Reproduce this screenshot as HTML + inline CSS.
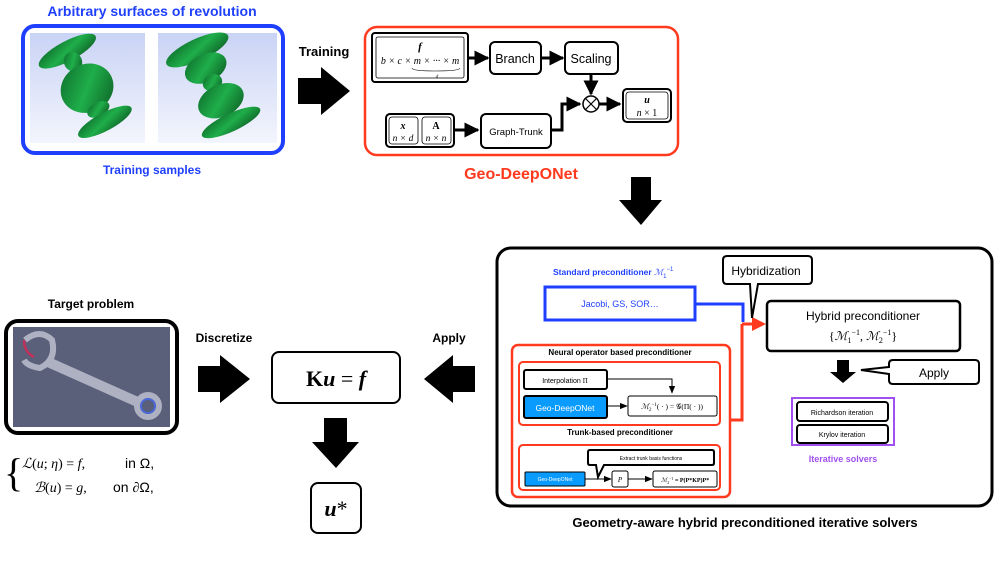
<!DOCTYPE html>
<html><head><meta charset="utf-8"><style>
html,body{margin:0;padding:0;background:#fff;}
svg{display:block;font-family:"Liberation Sans",sans-serif;}
.s{font-family:"Liberation Serif",serif;}
</style></head><body>
<svg width="997" height="561" viewBox="0 0 997 561" xmlns="http://www.w3.org/2000/svg">
<defs>
<linearGradient id="bg" x1="0" y1="0" x2="0" y2="1"><stop offset="0" stop-color="#c9d3f5"/><stop offset="1" stop-color="#f3f5fd"/></linearGradient>
<linearGradient id="gr" x1="0" y1="0" x2="1" y2="1"><stop offset="0" stop-color="#0d6a2a"/><stop offset="0.5" stop-color="#1fae4a"/><stop offset="1" stop-color="#0c5a22"/></linearGradient>
<marker id="ah" viewBox="0 0 10 10" refX="9" refY="5" markerWidth="5" markerHeight="5" orient="auto"><path d="M0,0 L10,5 L0,10z" fill="#000"/></marker>
<marker id="as" viewBox="0 0 10 10" refX="9" refY="5" markerWidth="8" markerHeight="8" orient="auto"><path d="M0,1 L10,5 L0,9z" fill="#000"/></marker>
</defs>

<!-- Top-left -->
<text x="152" y="16" text-anchor="middle" font-size="14" font-weight="bold" fill="#1f3fff">Arbitrary surfaces of revolution</text>
<rect x="23" y="26" width="260" height="127" rx="12" fill="#fff" stroke="#1f3fff" stroke-width="4"/>
<rect x="30" y="33" width="115" height="110" fill="url(#bg)"/>
<rect x="158" y="33" width="119" height="110" fill="url(#bg)"/>
<g fill="url(#gr)" transform="translate(88,90) rotate(-28)">
<ellipse cx="0" cy="-44" rx="32" ry="10"/>
<ellipse cx="0" cy="-32" rx="9" ry="10"/>
<ellipse cx="0" cy="-2" rx="27" ry="24"/>
<ellipse cx="0" cy="22" rx="12" ry="7"/>
<ellipse cx="0" cy="36" rx="30" ry="9"/>
</g>
<g fill="url(#gr)" transform="translate(215,88) rotate(-25)">
<ellipse cx="0" cy="-42" rx="34" ry="11"/>
<ellipse cx="0" cy="-22" rx="22" ry="14"/>
<ellipse cx="0" cy="-6" rx="10" ry="8"/>
<ellipse cx="0" cy="14" rx="24" ry="16"/>
<ellipse cx="0" cy="38" rx="32" ry="9"/>
</g>
<text x="152" y="174" text-anchor="middle" font-size="12" font-weight="bold" fill="#1f3fff">Training samples</text>
<text x="324" y="56" text-anchor="middle" font-size="13" font-weight="bold">Training</text>
<path d="M298,78 H321 V67 L350,91 L321,115 V104 H298z" fill="#000"/>

<!-- Geo-DeepONet -->
<rect x="365" y="27" width="313" height="128" rx="12" fill="#fff" stroke="#ff3a1f" stroke-width="2.5"/>
<rect x="372" y="33" width="96" height="49" rx="3" fill="#fff" stroke="#000" stroke-width="2"/>
<rect x="376" y="37" width="88" height="41" rx="2" fill="none" stroke="#000" stroke-width="0.8"/>
<text x="420" y="50" text-anchor="middle" class="s" font-size="11" font-style="italic" font-weight="bold">f</text>
<text x="420" y="64" text-anchor="middle" class="s" font-size="10" font-style="italic">b × c × m × ··· × m</text>
<path d="M412,68 Q412,71 435,71 Q460,71 460,68" fill="none" stroke="#000" stroke-width="0.6"/>
<text x="437" y="78" text-anchor="middle" class="s" font-size="5" font-style="italic">d</text>
<rect x="490" y="42" width="51" height="32" rx="5" fill="#fff" stroke="#000" stroke-width="2"/>
<text x="515" y="63" text-anchor="middle" font-size="12.5">Branch</text>
<rect x="565" y="42" width="53" height="32" rx="5" fill="#fff" stroke="#000" stroke-width="2"/>
<text x="591" y="63" text-anchor="middle" font-size="12.5">Scaling</text>
<line x1="468" y1="58" x2="488" y2="58" stroke="#000" stroke-width="3" marker-end="url(#ah)"/>
<line x1="541" y1="58" x2="563" y2="58" stroke="#000" stroke-width="3" marker-end="url(#ah)"/>
<line x1="591" y1="74" x2="591" y2="94" stroke="#000" stroke-width="3" marker-end="url(#ah)"/>
<circle cx="591" cy="104" r="8" fill="#fff" stroke="#000" stroke-width="1.5"/>
<path d="M585.5,98.5 L596.5,109.5 M596.5,98.5 L585.5,109.5" stroke="#000" stroke-width="1.2"/>
<line x1="599" y1="104" x2="620" y2="104" stroke="#000" stroke-width="3" marker-end="url(#ah)"/>
<rect x="623" y="89" width="48" height="33" rx="4" fill="#fff" stroke="#000" stroke-width="2"/>
<rect x="626" y="92" width="42" height="27" rx="3" fill="none" stroke="#000" stroke-width="0.8"/>
<text x="647" y="103" text-anchor="middle" class="s" font-size="10" font-style="italic" font-weight="bold">u</text>
<text x="647" y="116" text-anchor="middle" class="s" font-size="10"><tspan font-style="italic">n</tspan> × 1</text>
<rect x="386" y="114" width="68" height="33" rx="4" fill="#fff" stroke="#000" stroke-width="2"/>
<rect x="389" y="117" width="29" height="27" rx="3" fill="none" stroke="#000" stroke-width="0.8"/>
<rect x="422" y="117" width="29" height="27" rx="3" fill="none" stroke="#000" stroke-width="0.8"/>
<text x="403" y="129" text-anchor="middle" class="s" font-size="10" font-style="italic" font-weight="bold">x</text>
<text x="403" y="141" text-anchor="middle" class="s" font-size="9.5" font-style="italic">n × d</text>
<text x="436" y="129" text-anchor="middle" class="s" font-size="10" font-weight="bold">A</text>
<text x="436" y="141" text-anchor="middle" class="s" font-size="9.5" font-style="italic">n × n</text>
<line x1="454" y1="130" x2="478" y2="130" stroke="#000" stroke-width="3" marker-end="url(#ah)"/>
<rect x="481" y="114" width="70" height="34" rx="5" fill="#fff" stroke="#000" stroke-width="2"/>
<text x="516" y="135" text-anchor="middle" font-size="9.5">Graph-Trunk</text>
<path d="M551,130 H562 V104 H580" fill="none" stroke="#000" stroke-width="3" marker-end="url(#ah)"/>
<text x="521" y="179" text-anchor="middle" font-size="16" font-weight="bold" fill="#ff3a1f">Geo-DeepONet</text>
<path d="M631,177 H651 V200 H662 L641,225 L619,200 H631z" fill="#000"/>

<!-- Right big box -->
<rect x="497" y="248" width="495" height="258" rx="14" fill="#fff" stroke="#000" stroke-width="3"/>
<text x="553" y="275" font-size="8.5" font-weight="bold" fill="#1f3fff">Standard preconditioner <tspan class="s" font-style="italic" font-weight="normal">ℳ</tspan><tspan font-size="6" dy="3" font-weight="normal">1</tspan><tspan font-size="6" dy="-7" font-weight="normal">−1</tspan></text>
<rect x="545" y="287" width="150" height="33" fill="#fff" stroke="#1f3fff" stroke-width="3"/>
<text x="620" y="307" text-anchor="middle" font-size="9" fill="#1f3fff">Jacobi, GS, SOR…</text>
<path d="M695,304 H743 V322" fill="none" stroke="#1f3fff" stroke-width="3"/>
<path d="M742,324 V420 H730" fill="none" stroke="#ff3a1f" stroke-width="3"/>
<line x1="742" y1="324" x2="752" y2="324" stroke="#ff3a1f" stroke-width="3"/>
<path d="M752,317 L766,324 L752,331z" fill="#ff3a1f"/>
<path d="M727,256 H808 Q812,256 812,260 V280 Q812,284 808,284 H758 L752,318 L750,284 H727 Q723,284 723,280 V260 Q723,256 727,256z" fill="#fff" stroke="#000" stroke-width="2"/>
<text x="766" y="275" text-anchor="middle" font-size="12">Hybridization</text>
<rect x="767" y="301" width="193" height="50" rx="4" fill="#fff" stroke="#000" stroke-width="2.5"/>
<text x="863" y="320" text-anchor="middle" font-size="12">Hybrid preconditioner</text>
<text x="863" y="340" text-anchor="middle" class="s" font-size="12">{<tspan font-style="italic">ℳ</tspan><tspan font-size="8" dy="3">1</tspan><tspan font-size="8" dy="-8">−1</tspan><tspan dy="5">, </tspan><tspan font-style="italic">ℳ</tspan><tspan font-size="8" dy="3">2</tspan><tspan font-size="8" dy="-8">−1</tspan><tspan dy="5">}</tspan></text>
<path d="M837,360 H849 V372 H856 L843,383 L830,372 H837z" fill="#000"/>
<path d="M893,360 H975 Q979,360 979,364 V380 Q979,384 975,384 H893 Q889,384 889,380 V374 L861,370 L889,367 V364 Q889,360 893,360z" fill="#fff" stroke="#000" stroke-width="2"/>
<text x="934" y="377" text-anchor="middle" font-size="12">Apply</text>
<rect x="792" y="398" width="102" height="47" fill="#fff" stroke="#a050f0" stroke-width="2"/>
<rect x="797" y="402" width="91" height="19" rx="3" fill="#fff" stroke="#000" stroke-width="2"/>
<text x="842" y="415" text-anchor="middle" font-size="7">Richardson iteration</text>
<rect x="797" y="425" width="91" height="18" rx="3" fill="#fff" stroke="#000" stroke-width="2"/>
<text x="842" y="437" text-anchor="middle" font-size="7">Krylov iteration</text>
<text x="843" y="462" text-anchor="middle" font-size="9" font-weight="bold" fill="#a050f0">Iterative solvers</text>

<rect x="512" y="345" width="218" height="152" rx="6" fill="#fff" stroke="#ff3a1f" stroke-width="2.5"/>
<text x="620" y="355" text-anchor="middle" font-size="8" font-weight="bold">Neural operator based preconditioner</text>
<rect x="519" y="362" width="201" height="63" rx="4" fill="#fff" stroke="#ff3a1f" stroke-width="2"/>
<rect x="524" y="370" width="83" height="19" rx="2" fill="#fff" stroke="#000" stroke-width="2"/>
<text x="565" y="383" text-anchor="middle" font-size="7">Interpolation <tspan class="s">Π</tspan></text>
<path d="M607,379 H672 V393" fill="none" stroke="#000" stroke-width="1" marker-end="url(#as)"/>
<rect x="524" y="396" width="83" height="22" rx="2" fill="#0a9bff" stroke="#000" stroke-width="2"/>
<text x="565" y="411" text-anchor="middle" font-size="8.5" fill="#fff">Geo-DeepONet</text>
<line x1="607" y1="406" x2="627" y2="406" stroke="#000" stroke-width="1" marker-end="url(#as)"/>
<rect x="628" y="396" width="89" height="20" rx="2" fill="#fff" stroke="#000" stroke-width="1"/>
<text x="672" y="409" text-anchor="middle" class="s" font-size="7.5"><tspan font-style="italic">ℳ</tspan><tspan font-size="5" dy="2">2</tspan><tspan font-size="5" dy="-5">−1</tspan><tspan dy="3">( · ) = 𝒢(Π( · ))</tspan></text>
<text x="620" y="435" text-anchor="middle" font-size="8" font-weight="bold">Trunk-based preconditioner</text>
<rect x="519" y="445" width="201" height="45" rx="4" fill="#fff" stroke="#ff3a1f" stroke-width="2"/>
<path d="M590,450 H712 Q714,450 714,452 V463 Q714,465 712,465 H604 L598,477 L596,465 H590 Q588,465 588,463 V452 Q588,450 590,450z" fill="#fff" stroke="#000" stroke-width="2"/>
<text x="651" y="460" text-anchor="middle" font-size="5">Extract trunk basis functions</text>
<rect x="525" y="472" width="60" height="14" rx="1" fill="#0a9bff" stroke="#000" stroke-width="1"/>
<text x="555" y="481" text-anchor="middle" font-size="5" fill="#fff">Geo-DeepONet</text>
<line x1="585" y1="479" x2="611" y2="479" stroke="#000" stroke-width="1" marker-end="url(#as)"/>
<rect x="612" y="471" width="16" height="16" rx="2" fill="#fff" stroke="#000" stroke-width="1"/>
<text x="620" y="482" text-anchor="middle" class="s" font-size="7" font-style="italic">P</text>
<line x1="628" y1="479" x2="652" y2="479" stroke="#000" stroke-width="1" marker-end="url(#as)"/>
<rect x="653" y="471" width="64" height="16" rx="2" fill="#fff" stroke="#000" stroke-width="1"/>
<text x="685" y="482" text-anchor="middle" class="s" font-size="6"><tspan font-style="italic">ℳ</tspan><tspan font-size="4" dy="2">2</tspan><tspan font-size="4" dy="-4">−1</tspan><tspan dy="2" font-weight="bold"> = P(P*KP)P*</tspan></text>
<text x="745" y="527" text-anchor="middle" font-size="13" font-weight="bold">Geometry-aware hybrid preconditioned iterative solvers</text>

<!-- Bottom left -->
<text x="91" y="308" text-anchor="middle" font-size="12" font-weight="bold">Target problem</text>
<rect x="6" y="321" width="171" height="112" rx="12" fill="#fff" stroke="#000" stroke-width="4"/>
<rect x="13" y="327" width="157" height="100" fill="#5a5f7a"/>
<g fill="none" stroke="#aeb1c2">
<path d="M48,362 L142,404" stroke-width="10"/>
<circle cx="148" cy="406" r="11" stroke-width="6"/>
<path d="M25,340 Q40,328 52,340 Q57,360 40,368 Q27,366 24,360" stroke-width="6"/>
</g>
<path d="M24,340 Q24,352 34,357" stroke="#c0305a" stroke-width="2.5" fill="none"/>
<circle cx="148" cy="406" r="7" stroke="#4a68d8" stroke-width="2" fill="none"/>
<text x="4" y="486" class="s" font-size="40" transform="scale(1,1)">{</text>
<text x="22" y="468" class="s" font-size="14"><tspan font-style="italic">ℒ</tspan>(<tspan font-style="italic">u</tspan>; <tspan font-style="italic">η</tspan>) = <tspan font-style="italic">f</tspan>,</text>
<text x="125" y="468" font-size="14">in Ω,</text>
<text x="34" y="492" class="s" font-size="14"><tspan font-style="italic">ℬ</tspan>(<tspan font-style="italic">u</tspan>) = <tspan font-style="italic">g</tspan>,</text>
<text x="113" y="492" font-size="14">on <tspan class="s" font-style="italic">∂</tspan>Ω,</text>
<text x="224" y="342" text-anchor="middle" font-size="12" font-weight="bold">Discretize</text>
<path d="M198,366 H220 V355 L250,379 L220,403 V392 H198z" fill="#000"/>
<rect x="272" y="352" width="128" height="51" rx="7" fill="#fff" stroke="#000" stroke-width="2"/>
<text x="336" y="386" text-anchor="middle" class="s" font-size="22"><tspan font-weight="bold">K</tspan><tspan font-style="italic" font-weight="bold">u</tspan> = <tspan font-style="italic" font-weight="bold">f</tspan></text>
<text x="449" y="342" text-anchor="middle" font-size="12" font-weight="bold">Apply</text>
<path d="M475,366 H453 V355 L424,379 L453,403 V392 H475z" fill="#000"/>
<path d="M324,418 H347 V442 H359 L336,468 L312,442 H324z" fill="#000"/>
<rect x="311" y="483" width="50" height="50" rx="7" fill="#fff" stroke="#000" stroke-width="2"/>
<text x="336" y="516" text-anchor="middle" class="s" font-size="22" font-style="italic" font-weight="bold">u<tspan font-weight="normal" font-style="normal">*</tspan></text>
</svg>
</body></html>
